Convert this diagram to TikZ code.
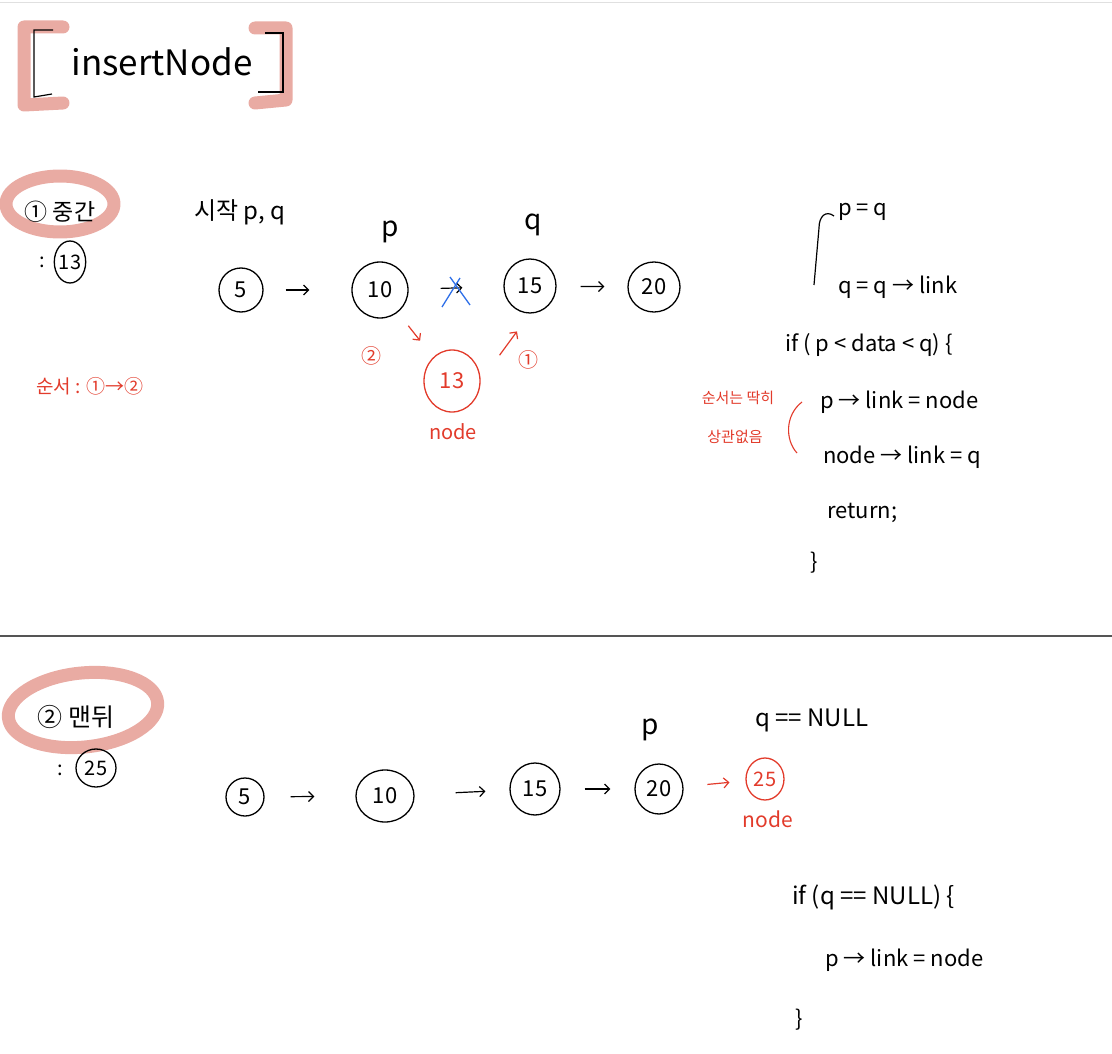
\documentclass[tikz,border=0pt]{standalone}
\usepackage{fontspec}
\setmainfont{Noto Sans CJK KR}
\usetikzlibrary{arrows.meta,shapes.geometric}
\definecolor{hpink}{HTML}{E9ABA3}
\definecolor{hred}{HTML}{E23B2B}
\definecolor{hblue}{HTML}{2E6FE8}
\definecolor{hgray}{HTML}{555555}
\tikzset{
  ll/.style={ellipse, draw, line width=1.3pt, inner sep=0pt, font=\fontsize{22}{22}\selectfont},
  conn/.style={-{Straight Barb[length=5pt,width=10pt]}, line width=1.2pt},
  code/.style={anchor=west, inner sep=0pt, font=\fontsize{22}{22}\selectfont},
  lbl/.style={inner sep=0pt, font=\fontsize{28}{28}\selectfont},
  rtxt/.style={inner sep=0pt, text=hred},
  hl/.style={draw=hpink, line width=13pt, line cap=round, line join=round},
}
\begin{document}
\begin{tikzpicture}[x=1pt,y=-1pt]
\useasboundingbox (0,0) rectangle (1112,1054);
% top and separator lines
\draw[black!12, line width=1pt] (0,3) -- (1112,3);
\draw[hgray, line width=1.5pt] (0,636) -- (1112,636);

% title
\draw[hl] (63,27) -- (24,27) -- (24,105) -- (63,103);
\draw[hl] (255,28) -- (286,28) -- (286,100) -- (255,103);
\draw[line width=1.2pt] (53,30) -- (34,30) -- (34,97) -- (52,94);
\draw[line width=1.2pt] (265,33) -- (283,33) -- (283,92) -- (258,92);
\node[inner sep=0pt, font=\fontsize{35}{35}\selectfont] (title) at (162,62) {insertNode};

% section 1 heading
\draw[hl] (60,204) ellipse [x radius=54pt, y radius=28pt];
\node[inner sep=0pt, font=\fontsize{23}{23}\selectfont] (h1) at (60,212) {① 중간};
\node[inner sep=0pt, font=\fontsize{20}{20}\selectfont] (colon1) at (42,262) {:};
\node[ll, minimum width=30pt, minimum height=42pt, font=\fontsize{20}{20}\selectfont] (s13) at (70,262) {13};
\node[inner sep=0pt, font=\fontsize{24}{24}\selectfont] (start) at (240,212) {시작 p, q};

% row 1
\node[ll, minimum width=44pt, minimum height=44pt] (a1) at (241,290) {5};
\node[ll, minimum width=56pt, minimum height=56pt] (a2) at (380,290) {10};
\node[ll, minimum width=52pt, minimum height=54pt] (a3) at (530,286) {15};
\node[ll, minimum width=52pt, minimum height=50pt] (a4) at (654,287) {20};
\node[lbl] (lp1) at (390,232) {p};
\node[lbl] (lq1) at (533,225) {q};
\draw[conn, shorten <=22pt, shorten >=42pt] (a1) -- (a2);
\draw[conn, shorten <=32pt, shorten >=41pt] (a2) -- (a3);
\draw[conn, shorten <=24pt, shorten >=23pt] (a3) -- (a4);
\draw[hblue, line width=1.3pt] (450,277) -- (470,305);
\draw[hblue, line width=1.3pt] (442,307) -- (460,278);

% new node 13
\node[ll, draw=hred, text=hred, minimum width=56pt, minimum height=62pt] (m) at (452,381) {13};
\node[rtxt, font=\fontsize{20}{20}\selectfont] (mlabel) at (453,432) {node};
\draw[conn, hred, shorten <=17pt, shorten >=21pt] (a2) -- (m);
\draw[conn, hred, shorten <=32pt, shorten >=22pt] (m.east) -- (a3.south);
\node[rtxt, font=\fontsize{20}{20}\selectfont] (n2) at (371,356) {②};
\node[rtxt, font=\fontsize{20}{20}\selectfont] (n1) at (528,360) {①};
\node[rtxt, font=\fontsize{19}{19}\selectfont] (order) at (90,386) {순서 : ①→②};

% code 1
\draw[line width=1.2pt] (834,216) .. controls (826,210) and (819,216) .. (819,228) -- (814,285);
\node[code] (c1) at (838,212) {p = q};
\node[code] (c2) at (838,287) {q = q → link};
\node[code] (c3) at (785,345) {if ( p < data < q) \{};
\node[code] (c4) at (820,402) {p → link = node};
\node[code] (c5) at (823,457) {node → link = q};
\node[code] (c6) at (827,513) {return;};
\node[code] (c7) at (810,563) {\}};
\draw[hred, line width=1.1pt] (802,402) .. controls (785,415) and (785,440) .. (797,453);
\node[rtxt, font=\fontsize{15}{15}\selectfont] (r1) at (738,398) {순서는 딱히};
\node[rtxt, font=\fontsize{15}{15}\selectfont] (r2) at (735,437) {상관없음};

% section 2 heading
\draw[hl, rotate around={6:(83,710)}] (83,710) ellipse [x radius=75pt, y radius=37pt];
\node[inner sep=0pt, font=\fontsize{25}{25}\selectfont] (h2) at (76,717) {② 맨뒤};
\node[inner sep=0pt, font=\fontsize{20}{20}\selectfont] (colon2) at (60,770) {:};
\node[ll, minimum width=40pt, minimum height=38pt, font=\fontsize{20}{20}\selectfont] (s25) at (96,768) {25};

% row 2
\node[ll, minimum width=38pt, minimum height=38pt] (b1) at (245,797) {5};
\node[ll, minimum width=58pt, minimum height=52pt] (b2) at (385,796) {10};
\node[ll, minimum width=50pt, minimum height=52pt] (b3) at (535,789) {15};
\node[ll, minimum width=48pt, minimum height=50pt] (b4) at (659,789) {20};
\node[ll, draw=hred, text=hred, minimum width=38pt, minimum height=42pt, font=\fontsize{20}{20}\selectfont] (b5) at (765,779) {25};
\node[rtxt, font=\fontsize{21}{21}\selectfont] (b5label) at (768,819) {node};
\draw[conn, shorten <=26pt, shorten >=41pt] (b1) -- (b2);
\draw[conn, shorten <=41pt, shorten >=24pt] (b2) -- (b3);
\draw[conn, shorten <=24pt, shorten >=24pt] (b3) -- (b4);
\draw[conn, hred, shorten <=24pt, shorten >=16pt] (b4) -- (b5);
\node[lbl] (lp2) at (650,730) {p};
\node[code, font=\fontsize{24}{24}\selectfont] (qn) at (755,720) {q == NULL};

% code 2
\node[code, font=\fontsize{24}{24}\selectfont] (d1) at (792,897) {if (q == NULL) \{};
\node[code] (d2) at (825,960) {p → link = node};
\node[code] (d3) at (795,1020) {\}};
\end{tikzpicture}
\end{document}
